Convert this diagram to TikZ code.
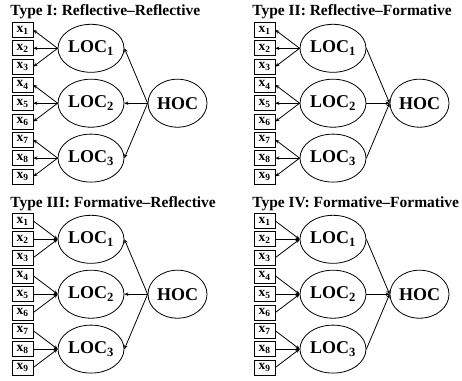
\documentclass[tikz,border=0pt]{standalone}
\usepackage{fontspec}
\setmainfont{Liberation Serif}
\usetikzlibrary{arrows.meta,shapes.geometric}

\tikzset{
  ind/.style={draw, rectangle, minimum width=21pt, minimum height=15pt, inner sep=0pt,
    font=\fontsize{13.5}{13.5}\selectfont\bfseries},
  lat/.style={draw, ellipse, minimum width=66pt, minimum height=48pt, inner sep=0pt,
    font=\fontsize{18}{18}\selectfont\bfseries},
  hoc/.style={draw, ellipse, minimum width=59pt, minimum height=48pt, inner sep=0pt,
    font=\fontsize{18}{18}\selectfont\bfseries},
  ttl/.style={anchor=base west, inner sep=0pt, font=\fontsize{15.5}{16}\selectfont\bfseries},
  refl/.style={-{Stealth[length=4pt,width=3.5pt]}},
  form/.style={{Stealth[length=4pt,width=3.5pt]}-},
}

% one measurement model: prefix, x shift, y shift, title, indicator style, HOC style
\newcommand\sempanel[6]{%
  \begin{scope}[shift={(#2,#3)}]
    \node[ttl] (#1-t) at (10,16) {#4};
    \foreach \i in {1,...,9}
      \node[ind] (#1-x\i) at (22.5,{30+18.3*(\i-1)}) {x\textsubscript{\i}};
    \foreach \j/\k in {1/2,2/5,3/8}
      \node[lat] (#1-L\j) at (91,{30+18.3*(\k-1)}) {LOC\textsubscript{\j}};
    \node[hoc] (#1-H) at (177.5,{30+18.3*4}) {HOC};
    \foreach \j in {1,2,3}{
      \foreach \k in {1,2,3}{
        \pgfmathtruncatemacro\n{3*(\j-1)+\k}
        \draw[#5] (#1-L\j.west) -- (#1-x\n.east);
      }
      \draw[#6] (#1-H.west) -- (#1-L\j.east);
    }
  \end{scope}}

\begin{document}
\begin{tikzpicture}[x=1pt,y=-1pt,line width=0.8pt]
  \useasboundingbox (0,0) rectangle (462,380);
  \clip (0,0) rectangle (462,380);
  \sempanel{a}{0}{0}{Type I: Reflective--Reflective}{refl}{refl}
  \sempanel{b}{242}{0}{Type II: Reflective--Formative}{refl}{form}
  \sempanel{c}{0}{191}{Type III: Formative--Reflective}{form}{refl}
  \sempanel{d}{242}{191}{Type IV: Formative--Formative}{form}{form}
\end{tikzpicture}
\end{document}
